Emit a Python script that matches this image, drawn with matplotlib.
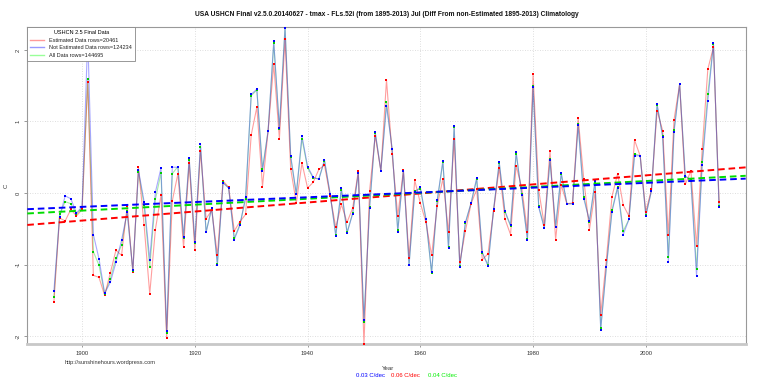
import numpy as np
import matplotlib
matplotlib.use("Agg")
import matplotlib.pyplot as plt
from matplotlib.lines import Line2D

plt.rcParams['font.family'] = ['Liberation Sans', 'DejaVu Sans']

years = list(range(1895, 2014))

not_estimated = [
    -1.37, -0.34, -0.04, -0.08, -0.28, -0.19, 2.19, -0.58, -0.92, -1.40,
    -1.25, -0.97, -0.66, -0.27, -1.08, 0.32, -0.12, -0.93, 0.01, 0.35,
    -1.93, 0.36, 0.36, -0.61, 0.49, -0.68, 0.68, -0.55, -0.21, -1.00,
    0.14, 0.07, -0.65, -0.45, -0.06, 1.38, 1.45, 0.31, 0.87, 2.12,
    0.91, 2.31, 0.52, -0.01, 0.80, 0.37, 0.22, 0.19, 0.46, -0.01,
    -0.60, 0.07, -0.56, -0.29, 0.28, -1.78, -0.21, 0.85, 0.31, 1.22,
    0.62, -0.54, 0.31, -1.01, 0.01, 0.08, -0.36, -1.11, -0.10, 0.45,
    -0.77, 0.93, -1.03, -0.41, -0.14, 0.21, -0.83, -1.02, -0.23, 0.43,
    -0.25, -0.45, 0.57, -0.03, -0.65, 1.48, -0.20, -0.49, 0.46, -0.47,
    0.28, -0.15, -0.15, 0.95, -0.08, -0.39, 0.17, -1.91, -1.04, -0.26,
    0.07, -0.58, -0.37, 0.52, 0.52, -0.32, 0.03, 1.24, 0.78, -0.96,
    0.85, 1.52, 0.24, 0.17, -1.16, 0.39, 1.28, 2.09, -0.20]

estimated = [
    -1.52, -0.35, -0.39, -0.23, -0.32, -0.23, 1.55, -1.15, -1.18, -1.43,
    -1.12, -0.80, -0.87, -0.18, -1.10, 0.36, -0.45, -1.41, -0.51, -0.03,
    -2.03, -0.11, 0.27, -0.76, 0.42, -0.79, 0.59, -0.36, -0.24, -0.87,
    0.17, 0.08, -0.53, -0.40, -0.30, 0.81, 1.20, 0.09, 0.87, 1.80,
    0.76, 2.15, 0.34, -0.14, 0.42, 0.07, 0.15, 0.33, 0.39, -0.04,
    -0.48, -0.16, -0.41, -0.21, 0.31, -2.11, 0.03, 0.80, 0.31, 1.58,
    0.54, -0.32, 0.32, -0.91, 0.18, -0.14, -0.41, -0.87, -0.18, 0.20,
    -0.55, 0.75, -0.97, -0.53, -0.15, 0.05, -0.93, -0.85, -0.25, 0.35,
    -0.36, -0.58, 0.38, 0.07, -0.54, 1.66, 0.04, -0.45, 0.59, -0.65,
    0.11, -0.15, -0.14, 1.05, 0.19, -0.51, 0.02, -1.70, -0.93, -0.05,
    0.27, -0.17, -0.32, 0.74, 0.52, -0.26, 0.05, 1.15, 0.87, -0.59,
    1.02, 1.52, 0.12, 0.31, -0.74, 0.61, 1.73, 2.04, -0.12]

all_data = [
    -1.46, -0.30, -0.12, -0.15, -0.30, -0.20, 1.60, -0.82, -1.01, -1.41,
    -1.20, -0.91, -0.73, -0.25, -1.09, 0.30, -0.17, -1.04, -0.09, 0.28,
    -1.96, 0.27, 0.37, -0.63, 0.46, -0.70, 0.65, -0.54, -0.21, -0.99,
    0.15, 0.07, -0.63, -0.44, -0.08, 1.36, 1.44, 0.34, 0.87, 2.09,
    0.90, 2.32, 0.50, -0.02, 0.76, 0.35, 0.21, 0.20, 0.45, -0.02,
    -0.58, 0.04, -0.55, -0.28, 0.28, -1.80, -0.19, 0.84, 0.31, 1.27,
    0.61, -0.52, 0.31, -1.00, 0.03, 0.06, -0.37, -1.12, -0.11, 0.43,
    -0.75, 0.92, -1.02, -0.42, -0.14, 0.19, -0.84, -1.00, -0.23, 0.42,
    -0.26, -0.46, 0.55, -0.02, -0.64, 1.50, -0.18, -0.49, 0.47, -0.48,
    0.26, -0.15, -0.15, 0.96, -0.05, -0.40, 0.16, -1.89, -1.03, -0.24,
    0.09, -0.53, -0.37, 0.55, 0.52, -0.31, 0.03, 1.23, 0.79, -0.90,
    0.88, 1.52, 0.23, 0.19, -1.06, 0.44, 1.39, 2.08, -0.18]

title = ("USA USHCN Final v2.5.0.20140627 - tmax - FLs.52i (from 1895-2013) Jul "
         "(Diff From non-Estimated 1895-2013) Climatology")
legend_title = "USHCN 2.5 Final Data"
legend_labels = ["Estimated Data rows=20461", "Not Estimated Data rows=124234",
                 "All Data rows=144695"]
x_ticks = [1900, 1920, 1940, 1960, 1980, 2000]
y_ticks = [-2, -1, 0, 1, 2]
url = "http://sunshinehours.wordpress.com"

W, H = 760, 379
fig = plt.figure(figsize=(W / 100, H / 100), dpi=100)
L, R_, T, B = 27.3, 745.7, 27.0, 344.0
ax = fig.add_axes([L / W, 1 - B / H, (R_ - L) / W, (B - T) / H])

yrs = np.array(years, dtype=float)
est = np.array(estimated)
nest = np.array(not_estimated)
alld = np.array(all_data)

span = yrs.max() - yrs.min()
xlim = (yrs.min() - 0.04 * span, yrs.max() + 0.04 * span)
ymin = min(est.min(), nest.min(), alld.min())
ymax = max(est.max(), nest.max(), alld.max())

# grid
for xt in x_ticks:
    ax.axvline(xt, color='#d3d3d3', lw=0.6, ls=(0, (1, 2)), zorder=0)
for yt in y_ticks:
    ax.axhline(yt, color='#d3d3d3', lw=0.6, ls=(0, (1, 2)), zorder=0)

# series
ax.plot(yrs, alld, color=(0.0, 0.8, 0.0, 0.35), lw=0.8, zorder=2)
ax.plot(yrs, est, color=(1, 0, 0, 0.38), lw=0.8, zorder=3)
ax.plot(yrs, nest, color=(0.25, 0.25, 1, 0.45), lw=0.8, zorder=4)
ax.plot(yrs, est, ls='none', marker='s', ms=1.9, mfc='#ff0000', mec='#ff0000', mew=0, zorder=4.1)
ax.plot(yrs, alld, ls='none', marker='s', ms=1.9, mfc='#00cc00', mec='#00cc00', mew=0, zorder=4.2)
ax.plot(yrs, nest, ls='none', marker='s', ms=1.9, mfc='#0000ff', mec='#0000ff', mew=0, zorder=4.3)

# trend lines
xx = np.array(xlim)
for vals, col, z in [(est, '#ff0000', 5), (alld, '#00dd00', 6), (nest, '#0000ff', 7)]:
    p = np.polyfit(yrs, vals, 1)
    ax.plot(xx, np.polyval(p, xx), color=col, lw=1.4, dashes=(3.4, 2.0), zorder=z)

ax.set_xlim(*xlim)
ax.set_ylim(ymin, ymax)
ax.set_xticks(x_ticks)
ax.set_yticks(y_ticks)
ax.set_xticklabels([str(v) for v in x_ticks])
ax.set_yticklabels([str(v) for v in y_ticks], rotation=90, va='center')
ax.tick_params(axis='both', length=2.2, width=0.6, color='#888888', labelsize=4.2,
               labelcolor='#333333', pad=2.5)

for s in ['left', 'top', 'right']:
    ax.spines[s].set_color('#999999')
    ax.spines[s].set_linewidth(0.8)
ax.spines['bottom'].set_color('#c8c8c8')
ax.spines['bottom'].set_linewidth(2.0)

# legend
handles = [Line2D([], [], color='#ff9999', lw=1.0),
           Line2D([], [], color='#9999ff', lw=1.0),
           Line2D([], [], color='#99ff99', lw=1.0)]
leg = ax.legend(handles, legend_labels, title=legend_title, loc='upper left',
                bbox_to_anchor=(0, 1), borderaxespad=0, fontsize=4.0,
                title_fontsize=4.0, fancybox=False, framealpha=1,
                edgecolor='#888888', handlelength=2.4, handletextpad=1.0,
                labelspacing=0.45, borderpad=0.55, frameon=True)
leg.get_frame().set_linewidth(0.6)
leg.set_zorder(10)
for t in leg.get_texts():
    t.set_color('#222222')

def px(x, y):
    return x / W, 1 - y / H

fig.text(*px(386.5, 14), title, ha='center', va='center', fontsize=4.8,
         fontweight='bold', color='#111111')
fig.text(*px(6, 185.5), "C", ha='center', va='center', rotation=90, fontsize=4.3, color='#333333')
fig.text(*px(388, 369), "Year", ha='center', va='center', fontsize=4.3, color='#333333')
fig.text(*px(110.5, 362.5), url, ha='center', va='center', fontsize=4.1, color='#333333')

sl_n = np.polyfit(yrs, nest, 1)[0] * 10
sl_e = np.polyfit(yrs, est, 1)[0] * 10
sl_a = np.polyfit(yrs, alld, 1)[0] * 10
fig.text(*px(371, 375.5), "%.2f C/dec" % sl_n, ha='center', va='center', fontsize=4.3, color='#0000ff')
fig.text(*px(405, 375.5), "%.2f C/dec" % sl_e, ha='center', va='center', fontsize=4.3, color='#ff0000')
fig.text(*px(442, 375.5), "%.2f C/dec" % sl_a, ha='center', va='center', fontsize=4.3, color='#00ee00')

fig.savefig("out.png", dpi=100)
